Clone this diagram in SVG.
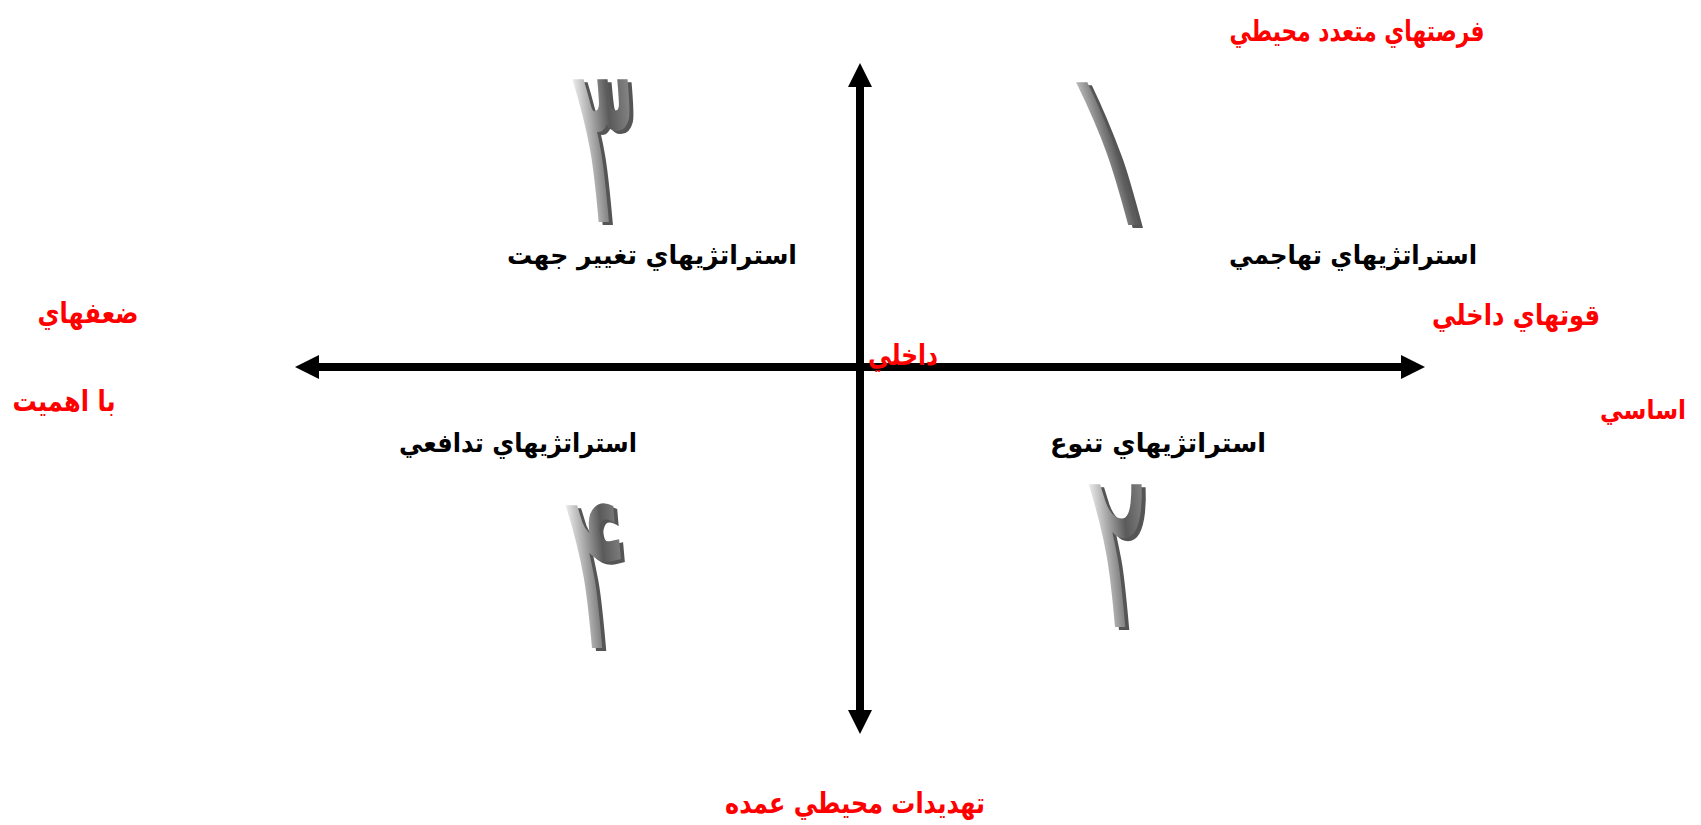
<svg xmlns="http://www.w3.org/2000/svg" width="1701" height="825" viewBox="0 0 1701 825">
<style>
.red{fill:#ff0000;font-family:"DejaVu Sans","Liberation Sans",sans-serif;font-weight:bold;font-size:29px;text-anchor:middle}
.blk{fill:#000;font-family:"DejaVu Sans","Liberation Sans",sans-serif;font-weight:bold;font-size:26px;text-anchor:middle}
.num{font-family:"DejaVu Sans",sans-serif;font-weight:normal;font-size:225px;text-anchor:middle}
.axis{stroke:#000;stroke-width:8;fill:none}
</style>
<defs>
<linearGradient id="g" x1="0" y1="0" x2="1" y2="0">
<stop offset="0" stop-color="#ffffff"/>
<stop offset="0.6" stop-color="#5a5a5a"/>
<stop offset="1" stop-color="#8a8a8a"/>
</linearGradient>
<marker id="ah" markerWidth="24" markerHeight="24" viewBox="0 0 24 24" refX="0" refY="12" orient="auto" markerUnits="userSpaceOnUse">
<path d="M0,0 L24,12 L0,24 Z" fill="#000"/>
</marker>
</defs>
<g id="connectors">
<line class="axis" x1="860" y1="367" x2="860" y2="87" marker-end="url(#ah)"/>
<line class="axis" x1="860" y1="367" x2="860" y2="710" marker-end="url(#ah)"/>
<line class="axis" x1="860" y1="367" x2="319" y2="367" marker-end="url(#ah)"/>
<line class="axis" x1="860" y1="367" x2="1401" y2="367" marker-end="url(#ah)"/>
</g>
<g id="num1">
<text class="num" transform="translate(1130,225) skewX(15) scale(0.52,1)" fill="#555" x="7" y="3">۱</text>
<text class="num" transform="translate(1130,225) skewX(15) scale(0.52,1)" fill="url(#g)">۱</text>
</g>
<g id="num2">
<text class="num" transform="translate(1128,627) skewX(5) scale(0.52,1)" fill="#555" x="7" y="3">۲</text>
<text class="num" transform="translate(1128,627) skewX(5) scale(0.52,1)" fill="url(#g)">۲</text>
</g>
<g id="num3">
<text class="num" transform="translate(612,222) skewX(5) scale(0.52,1)" fill="#555" x="7" y="3">۳</text>
<text class="num" transform="translate(612,222) skewX(5) scale(0.52,1)" fill="url(#g)">۳</text>
</g>
<g id="num4">
<text class="num" transform="translate(605,648) skewX(5) scale(0.52,1)" fill="#555" x="7" y="3">۴</text>
<text class="num" transform="translate(605,648) skewX(5) scale(0.52,1)" fill="url(#g)">۴</text>
</g>
<g id="label-top"><text class="red" x="1357" y="41" textLength="255" lengthAdjust="spacingAndGlyphs">فرصتهاي متعدد محيطي</text></g>
<g id="label-bottom"><text class="red" x="855" y="813" textLength="260" lengthAdjust="spacingAndGlyphs">تهديدات محيطي عمده</text></g>
<g id="label-left"><text class="red" x="88" y="323" textLength="101" lengthAdjust="spacingAndGlyphs">ضعفهاي</text><text class="red" x="64" y="411" textLength="103" lengthAdjust="spacingAndGlyphs">با اهميت</text></g>
<g id="label-right"><text class="red" x="1516" y="325" textLength="168" lengthAdjust="spacingAndGlyphs">قوتهاي داخلي</text><text class="red" x="1643" y="419" style="font-size:26px" textLength="86" lengthAdjust="spacingAndGlyphs">اساسي</text></g>
<g id="label-center"><text class="red" x="903" y="365" textLength="70" lengthAdjust="spacingAndGlyphs">داخلي</text></g>
<g id="q1"><text class="blk" x="1353" y="264" textLength="248" lengthAdjust="spacingAndGlyphs">استراتژيهاي تهاجمي</text></g>
<g id="q3"><text class="blk" x="652" y="264" textLength="290" lengthAdjust="spacingAndGlyphs">استراتژيهاي تغيير جهت</text></g>
<g id="q4"><text class="blk" x="518" y="452" textLength="238" lengthAdjust="spacingAndGlyphs">استراتژيهاي تدافعي</text></g>
<g id="q2"><text class="blk" x="1158" y="452" textLength="216" lengthAdjust="spacingAndGlyphs">استراتژيهاي تنوع</text></g>
</svg>
